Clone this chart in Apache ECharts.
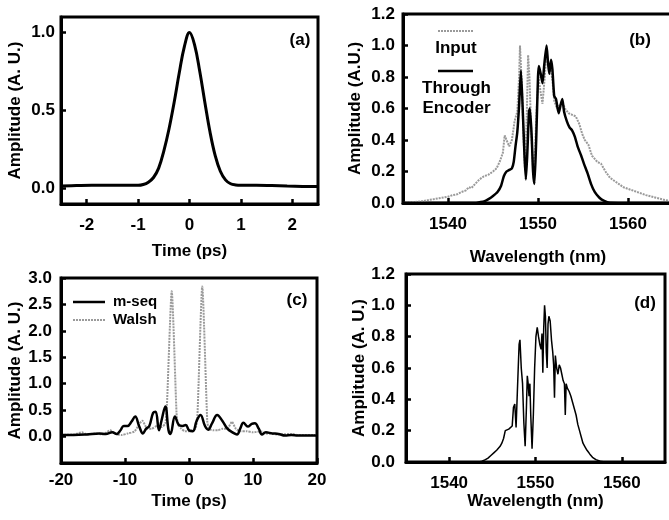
<!DOCTYPE html>
<html><head><meta charset="utf-8">
<script src="https://cdn.jsdelivr.net/npm/echarts@6/dist/echarts.min.js"></script>
<style>html,body{margin:0;padding:0;background:#fff}#c{width:669px;height:520px}</style>
</head><body><div id="c"></div>
<script>
// ---- Panel (a): input pulse ----
const aTime = [-2.5,-2.2,-1.9,-1.6,-1.3,-1.0,-0.9,-0.8,-0.7,-0.6,-0.5,-0.4,-0.3,-0.2,-0.1,0,0.1,0.2,0.3,0.4,0.5,0.6,0.7,0.8,0.9,1.0,1.3,1.6,1.9,2.2,2.5];
const aAmp  = [0.015,0.018,0.02,0.02,0.02,0.02,0.025,0.04,0.07,0.13,0.24,0.38,0.55,0.74,0.91,1.0,0.92,0.75,0.55,0.36,0.21,0.11,0.055,0.03,0.022,0.02,0.02,0.018,0.015,0.013,0.012];

// ---- Panel (b): spectra ----
const bInputWl  = [1535,1536,1537,1538,1539,1540,1540.5,1541,1541.5,1542,1542.3,1542.6,1543,1543.5,1544,1544.5,1545,1545.4,1545.8,1546.1,1546.3,1546.5,1546.8,1547.1,1547.4,1547.7,1547.9,1548.0,1548.2,1548.4,1548.55,1548.75,1548.9,1549.05,1549.25,1549.45,1549.65,1549.85,1550.05,1550.3,1550.5,1550.75,1550.95,1551.15,1551.35,1551.6,1551.8,1552.1,1552.4,1552.7,1553.0,1553.4,1553.8,1554.2,1554.6,1554.9,1555.2,1555.6,1556.0,1556.6,1557.0,1557.5,1558.0,1558.5,1559,1559.5,1560,1561,1562,1563,1564,1565];
const bInputAmp = [0.0,0.005,0.01,0.02,0.03,0.04,0.05,0.055,0.07,0.08,0.1,0.095,0.12,0.15,0.17,0.18,0.2,0.22,0.27,0.32,0.43,0.4,0.36,0.4,0.52,0.58,0.8,1.0,0.75,0.4,0.22,0.55,0.94,0.8,0.45,0.22,0.3,0.6,0.8,0.7,0.63,0.8,0.96,0.86,0.88,0.78,0.65,0.6,0.62,0.64,0.6,0.57,0.56,0.55,0.5,0.44,0.4,0.37,0.3,0.26,0.25,0.2,0.16,0.14,0.12,0.1,0.09,0.07,0.05,0.035,0.02,0.01];
const bEncWl  = [1535,1543,1543.5,1544,1544.5,1545,1545.5,1545.9,1546.2,1546.5,1546.8,1547.1,1547.3,1547.5,1547.7,1547.9,1548.1,1548.3,1548.5,1548.65,1548.8,1549.0,1549.1,1549.3,1549.45,1549.6,1549.8,1550.0,1550.1,1550.3,1550.5,1550.7,1550.95,1551.1,1551.25,1551.45,1551.6,1551.8,1552.0,1552.3,1552.5,1552.7,1552.9,1553.2,1553.5,1553.8,1554.1,1554.4,1554.8,1555.1,1555.5,1555.9,1556.3,1556.8,1557.3,1558.0,1565];
const bEncAmp = [0,0,0.005,0.01,0.025,0.045,0.07,0.11,0.17,0.2,0.21,0.22,0.26,0.36,0.45,0.62,0.84,0.6,0.3,0.15,0.3,0.58,0.6,0.42,0.2,0.12,0.4,0.8,0.87,0.82,0.76,0.88,1.0,0.9,0.82,0.91,0.85,0.68,0.66,0.57,0.62,0.66,0.58,0.52,0.48,0.46,0.42,0.36,0.3,0.25,0.19,0.12,0.07,0.035,0.015,0.002,0];

// ---- Panel (c): correlations ----
const cMseqTime = [-20,-18,-16,-14,-13,-12,-11.3,-10.7,-10.2,-9.6,-9.0,-8.4,-7.8,-7.2,-6.7,-6.2,-5.6,-5.2,-4.7,-4.3,-3.7,-3.2,-2.9,-2.2,-1.6,-1.0,-0.5,0,0.6,1.2,1.8,2.5,3.0,3.6,4.4,5.2,6.0,6.8,7.5,8.0,8.5,9.2,9.8,10.3,10.9,11.4,12,13,14,15,16,17,18,20];
const cMseqAmp  = [0.03,0.03,0.04,0.06,0.05,0.08,0.05,0.12,0.2,0.2,0.28,0.38,0.2,0.06,0.15,0.2,0.45,0.47,0.12,0.3,0.57,0.12,0.05,0.38,0.22,0.2,0.22,0.12,0.1,0.3,0.41,0.2,0.13,0.25,0.41,0.3,0.15,0.08,0.04,0.15,0.26,0.19,0.24,0.25,0.15,0.04,0.08,0.06,0.05,0.02,0.03,0.02,0.02,0.02];
const cWalshTime = [-20,-18,-16.7,-16,-14.5,-13.5,-12.3,-11.5,-10.5,-9.5,-8.5,-7.3,-6.5,-5.8,-5.0,-4.3,-3.7,-3.45,-2.7,-1.95,-1.7,-1.2,-0.6,0,0.5,1.0,1.3,2.07,2.85,3.1,3.8,4.5,5.3,6.0,6.7,7.3,8.0,9.0,10,11.2,12,13,14,16,17,20];
const cWalshAmp  = [0.03,0.04,0.08,0.04,0.06,0.04,0.12,0.05,0.03,0.06,0.1,0.3,0.15,0.15,0.2,0.18,0.25,0.6,2.75,0.45,0.22,0.15,0.1,0.1,0.12,0.15,0.35,2.84,0.3,0.15,0.12,0.12,0.15,0.15,0.28,0.15,0.1,0.1,0.08,0.1,0.06,0.05,0.04,0.05,0.03,0.03];

// ---- Panel (d): decoded spectrum ----
const dWl  = [1535,1543.5,1543.8,1544.2,1544.5,1544.8,1545.0,1545.2,1545.5,1545.7,1545.9,1546.1,1546.3,1546.5,1546.7,1546.9,1547.1,1547.3,1547.45,1547.6,1547.75,1547.9,1548.1,1548.2,1548.35,1548.5,1548.65,1548.8,1548.95,1549.05,1549.15,1549.25,1549.35,1549.45,1549.6,1549.75,1549.9,1550.05,1550.2,1550.35,1550.5,1550.65,1550.75,1550.85,1550.95,1551.05,1551.15,1551.25,1551.35,1551.45,1551.55,1551.7,1551.85,1552.0,1552.1,1552.2,1552.3,1552.45,1552.6,1552.75,1552.9,1553.05,1553.2,1553.35,1553.45,1553.55,1553.7,1553.9,1554.1,1554.3,1554.5,1554.7,1554.9,1555.1,1555.3,1555.5,1555.7,1555.9,1556.1,1556.3,1556.6,1557,1557.5,1558,1565];
const dAmp = [0,0,0.005,0.015,0.025,0.04,0.035,0.06,0.075,0.065,0.1,0.12,0.15,0.2,0.19,0.21,0.2,0.23,0.35,0.37,0.22,0.45,0.75,0.78,0.6,0.5,0.25,0.1,0.35,0.55,0.5,0.42,0.5,0.3,0.085,0.3,0.6,0.8,0.86,0.8,0.75,0.72,0.82,0.57,0.85,1.0,0.93,0.7,0.6,0.88,0.93,0.9,0.78,0.7,0.62,0.41,0.68,0.6,0.56,0.62,0.6,0.56,0.52,0.5,0.3,0.5,0.47,0.45,0.42,0.38,0.34,0.3,0.24,0.2,0.16,0.12,0.1,0.08,0.065,0.05,0.03,0.015,0.005,0,0];

// ---- Tick values ----
const aXTicks = [-2,-1,0,1,2];
const aYTicks = [0,0.5,1.0];
const wlTicks = [1540,1550,1560];
const bYTicks = [0,0.2,0.4,0.6,0.8,1.0,1.2];
const cXTicks = [-20,-10,0,10,20];
const cYTicks = [0,0.5,1.0,1.5,2.0,2.5,3.0];

const FONT = "'Liberation Sans', Arial, Helvetica, sans-serif";
const pairs = (xs, ys) => xs.map((x, i) => [x, ys[i]]);
const f1 = v => Number(v).toFixed(1);
const fi = v => String(Math.round(v));

function axis(gi, min, max, ticks, fmt, margin, name, nameGap) {
  return {
    type: 'value', gridIndex: gi, min, max,
    name, nameLocation: 'middle', nameGap,
    nameTextStyle: {color: '#000', fontFamily: FONT, fontWeight: 'bold', fontSize: 17},
    axisLine: {show: true, onZero: false, lineStyle: {color: '#000', width: 3}},
    axisTick: {show: true, inside: true, length: 5, lineStyle: {color: '#000', width: 2.5}, customValues: ticks},
    axisLabel: {show: true, color: '#000', fontFamily: FONT, fontWeight: 'bold', fontSize: 17, margin, customValues: ticks, formatter: fmt, showMinLabel: true, showMaxLabel: true},
    splitLine: {show: false}
  };
}

const gridBase = {show: true, borderColor: '#000', borderWidth: 3, containLabel: false, outerBoundsMode: 'none'};
const grayLine = {color: '#9a9a9a', width: 2, type: [2, 1]};
const txt = (x, y, text, size, align) => ({type: 'text', x, y, style: {text, font: 'bold ' + size + 'px ' + FONT, fill: '#000', align: align || 'center', verticalAlign: 'middle'}});

const option = {
  animation: false,
  backgroundColor: '#fff',
  grid: [
    Object.assign({left: 61, top: 17, width: 257, height: 187}, gridBase),
    Object.assign({left: 403, top: 14, width: 270, height: 189}, gridBase),
    Object.assign({left: 61, top: 278, width: 256, height: 185}, gridBase),
    Object.assign({left: 406, top: 274, width: 259, height: 188}, gridBase)
  ],
  xAxis: [
    axis(0, -2.5, 2.5, aXTicks, fi, 13, 'Time (ps)', 39),
    axis(1, 1535, 1565, wlTicks, fi, 13, 'Wavelength (nm)', 46),
    axis(2, -20, 20, cXTicks, fi, 9, 'Time (ps)', 30),
    axis(3, 1535, 1565, wlTicks, fi, 13, 'Wavelength (nm)', 30)
  ],
  yAxis: [
    axis(0, -0.1, 1.1, aYTicks, f1, 6, 'Amplitude (A. U.)', 37),
    axis(1, 0, 1.2, bYTicks, f1, 8, 'Amplitude (A.U.)', 39),
    axis(2, -0.5, 3.0, cYTicks, f1, 9, 'Amplitude (A. U.)', 37),
    axis(3, 0, 1.2, bYTicks, f1, 11, 'Amplitude (A. U.)', 36)
  ],
  series: [
    {name: 'Input pulse', type: 'line', xAxisIndex: 0, yAxisIndex: 0, data: pairs(aTime, aAmp), symbol: 'none', smooth: 0.4, lineStyle: {color: '#000', width: 3}},
    {name: 'Input', type: 'line', xAxisIndex: 1, yAxisIndex: 1, data: pairs(bInputWl, bInputAmp), symbol: 'none', lineStyle: grayLine},
    {name: 'Through Encoder', type: 'line', xAxisIndex: 1, yAxisIndex: 1, data: pairs(bEncWl, bEncAmp), symbol: 'none', smooth: 0.2, lineStyle: {color: '#000', width: 2.5}},
    {name: 'Walsh', type: 'line', xAxisIndex: 2, yAxisIndex: 2, data: pairs(cWalshTime, cWalshAmp), symbol: 'none', smooth: 0.2, lineStyle: grayLine},
    {name: 'm-seq', type: 'line', xAxisIndex: 2, yAxisIndex: 2, data: pairs(cMseqTime, cMseqAmp), symbol: 'none', smooth: 0.4, lineStyle: {color: '#000', width: 2.5}},
    {name: 'Decoded', type: 'line', xAxisIndex: 3, yAxisIndex: 3, data: pairs(dWl, dAmp), symbol: 'none', lineStyle: {color: '#000', width: 1.5}}
  ],
  graphic: [
    txt(300, 40, '(a)', 17), txt(640, 40, '(b)', 17), txt(297, 300, '(c)', 17), txt(645, 303, '(d)', 17),
    // legend (b)
    {type: 'line', shape: {x1: 438, y1: 31, x2: 473, y2: 31}, style: {stroke: '#9a9a9a', lineWidth: 2, lineDash: [2, 1]}},
    txt(456, 48, 'Input', 17),
    {type: 'line', shape: {x1: 438, y1: 71, x2: 473, y2: 71}, style: {stroke: '#000', lineWidth: 2.5}},
    txt(456.5, 88, 'Through', 17),
    txt(456.5, 108, 'Encoder', 17),
    // legend (c)
    {type: 'line', shape: {x1: 73, y1: 302, x2: 105, y2: 302}, style: {stroke: '#000', lineWidth: 2.5}},
    txt(113, 302, 'm-seq', 15, 'left'),
    {type: 'line', shape: {x1: 73, y1: 320, x2: 105, y2: 320}, style: {stroke: '#9a9a9a', lineWidth: 2, lineDash: [2, 1]}},
    txt(113, 320, 'Walsh', 15, 'left')
  ]
};
const chart = echarts.init(document.getElementById('c'), null, {renderer: 'canvas'});
chart.setOption(option);
</script>
</body></html>
